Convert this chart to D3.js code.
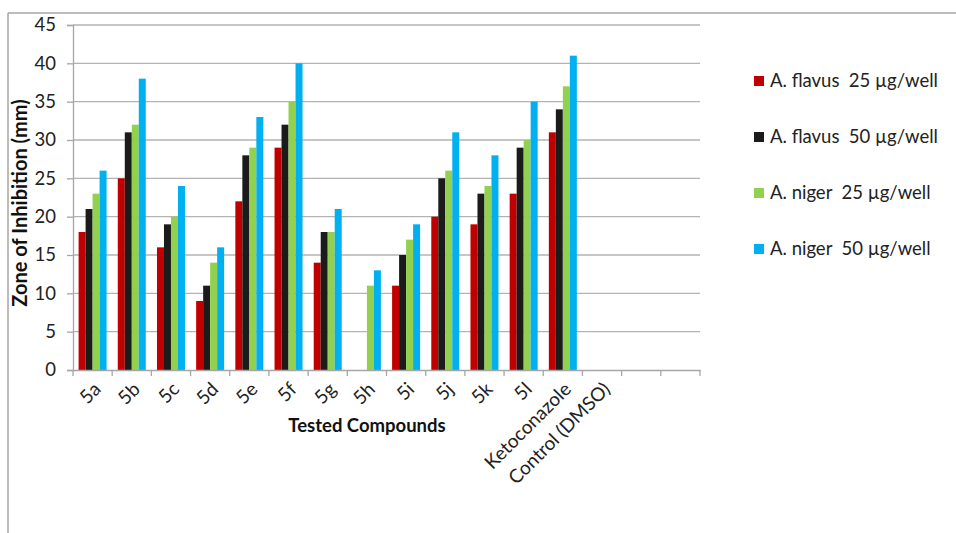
<!DOCTYPE html>
<html><head><meta charset="utf-8">
<script src="https://cdn.jsdelivr.net/npm/d3@7"></script>
<style>
html,body{margin:0;padding:0;background:#fff;}
svg{display:block;font-family:"Lato",sans-serif;}
</style></head>
<body>
<svg id="chart" width="956" height="533"></svg>
<script>
const categories = ["5a","5b","5c","5d","5e","5f","5g","5h","5i","5j","5k","5l","Ketoconazole","Control (DMSO)","",""];
const seriesNames = ["A. flavus  25 \u00b5g/well","A. flavus  50 \u00b5g/well","A. niger  25 \u00b5g/well","A. niger  50 \u00b5g/well"];
const flavus25 = [18,25,16,9,22,29,14,0,11,20,19,23,31,0,null,null];
const flavus50 = [21,31,19,11,28,32,18,0,15,25,23,29,34,0,null,null];
const niger25  = [23,32,20,14,29,35,18,11,17,26,24,30,37,0,null,null];
const niger50  = [26,38,24,16,33,40,21,13,19,31,28,35,41,0,null,null];
const yTicks = [0,5,10,15,20,25,30,35,40,45];
const colors = ["#C00000","#1b1b1b","#92D050","#00B0F0"];
const series = [flavus25, flavus50, niger25, niger50];

(function(){
const FONT = "Lato, sans-serif";
const svg = d3.select("#chart");
const mLeft = 73, mRight = 700, mTop = 25, mBottom = 370;

svg.append("line").attr("x1",8).attr("x2",956).attr("y1",13).attr("y2",13).attr("stroke","#a6a6a6").attr("stroke-width",1.5);
svg.append("line").attr("x1",8).attr("x2",8).attr("y1",13).attr("y2",533).attr("stroke","#a6a6a6").attr("stroke-width",1.5);

const idx = categories.map((c,i)=>i);
const x0 = d3.scaleBand().domain(idx).range([mLeft,mRight]).paddingInner(0).paddingOuter(0);
const x1 = d3.scaleBand().domain([0,1,2,3]).range([0,x0.bandwidth()]).paddingOuter(0.8).paddingInner(0);
const y = d3.scaleLinear().domain([0,45]).range([mBottom,mTop]);

svg.append("g").selectAll("line").data(yTicks.filter(t=>t>0)).join("line")
  .attr("x1",mLeft).attr("x2",mRight).attr("y1",d=>y(d)).attr("y2",d=>y(d))
  .attr("stroke","#b3b3b3").attr("stroke-width",1.3);

const yAxis = svg.append("g").attr("transform",`translate(${mLeft},0)`)
  .call(d3.axisLeft(y).tickValues(yTicks).tickSize(6).tickPadding(11));
yAxis.attr("font-family",FONT);
yAxis.select(".domain").attr("stroke","#a6a6a6").attr("stroke-width",1.3);
yAxis.selectAll(".tick line").attr("stroke","#a6a6a6").attr("stroke-width",1.3);
yAxis.selectAll("text").attr("font-size",18.5).attr("fill","#222");

const g = svg.append("g");
series.forEach((vals,s)=>{
  g.selectAll(null).data(idx.filter(i=>vals[i]!=null && vals[i]>0)).join("rect")
    .attr("x",i=>x0(i)+x1(s))
    .attr("width",x1.bandwidth())
    .attr("y",i=>y(vals[i]))
    .attr("height",i=>y(0)-y(vals[i]))
    .attr("fill",colors[s]);
});

const xAxis = svg.append("g").attr("transform",`translate(0,${mBottom})`)
  .call(d3.axisBottom(x0).tickSize(0).tickFormat(i=>categories[i]));
xAxis.attr("font-family",FONT);
xAxis.select(".domain").attr("stroke","#a6a6a6").attr("stroke-width",1.3);
xAxis.selectAll(".tick line").remove();
const bounds = idx.map(i=>x0(i)).concat([mRight]);
xAxis.selectAll(".bt").data(bounds).join("line").attr("class","bt")
  .attr("x1",d=>d).attr("x2",d=>d).attr("y1",0).attr("y2",6)
  .attr("stroke","#a6a6a6").attr("stroke-width",1.3);
xAxis.selectAll(".tick text")
  .attr("font-size",19).attr("fill","#222")
  .attr("text-anchor","end").attr("dy","0.7em").attr("y",0)
  .attr("transform","translate(0,11) rotate(-45)");

svg.append("text").attr("x",367).attr("y",432).attr("text-anchor","middle")
  .attr("font-family",FONT).attr("font-size",18.5).attr("font-weight","bold").attr("fill","#111")
  .text("Tested Compounds");
svg.append("text").attr("transform","translate(27,203) rotate(-90)").attr("text-anchor","middle")
  .attr("font-family",FONT).attr("font-size",20).attr("font-weight","bold").attr("fill","#111")
  .text("Zone of Inhibition (mm)");

const lg = svg.append("g");
seriesNames.forEach((n,i)=>{
  const yy = 81 + i*56;
  lg.append("rect").attr("x",754).attr("y",yy-5).attr("width",10).attr("height",10).attr("fill",colors[i]);
  lg.append("text").attr("x",770).attr("y",yy).attr("dy","0.35em")
    .attr("font-family",FONT).attr("font-size",18.5).attr("fill","#222")
    .style("white-space","pre").text(n);
});
})();
</script>
</body></html>
